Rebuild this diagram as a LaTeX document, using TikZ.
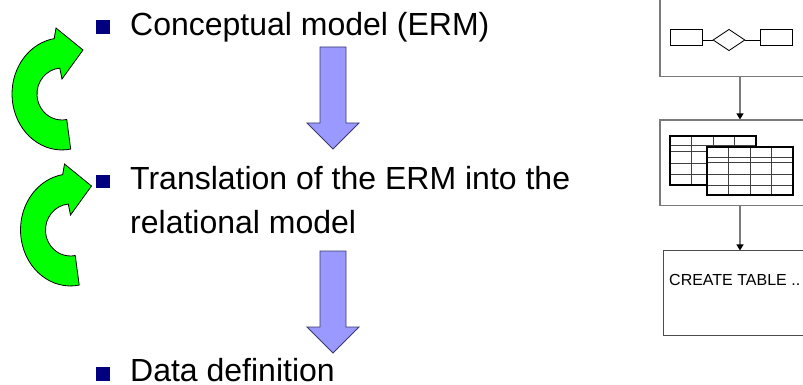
\documentclass[tikz,border=0pt]{standalone}
\usepackage{fontspec}
\setmainfont{Liberation Sans}
\usetikzlibrary{arrows.meta,shapes.geometric}

\definecolor{bulletblue}{HTML}{000080}
\definecolor{arrowblue}{HTML}{9999FF}
\definecolor{arrowedge}{HTML}{3A3A6A}
\definecolor{turngreen}{HTML}{00FF00}
\definecolor{framegray}{HTML}{7A7A7A}

\tikzset{
  bigtext/.style={anchor=base west, inner sep=0pt, font=\fontsize{32}{38}\selectfont},
  bulletsq/.style={fill=bulletblue, draw=none},
  downarrow/.style={fill=arrowblue, draw=arrowedge, line width=0.8pt, line join=miter},
  turnstyle/.style={fill=turngreen, draw=black, line width=0.8pt, line join=miter},
  framebox/.style={draw=framegray, line width=1.3pt, inner sep=0pt},
  conn/.style={draw=framegray, line width=1.3pt,
    -{Triangle[width=7pt,length=6pt,color=black]}},
  erbox/.style={draw=black, line width=0.8pt, fill=white, inner sep=0pt,
    minimum width=32pt, minimum height=15.7pt},
  erdiamond/.style={draw=black, line width=0.8pt, fill=white, inner sep=0pt,
    diamond, minimum width=32pt, minimum height=21.4pt},
  tableframe/.style={draw=black, line width=2pt, fill=white},
  tablegrid/.style={draw=black!75, line width=1pt},
  greenturn/.pic={
    \path[turnstyle] (8.7,55.1)
      arc[start angle=80, end angle=261, x radius=50, y radius=56]
      -- (-6,-66) -- (21,-44) -- (0,-15) -- (-2.2,-25.9)
      arc[start angle=265, end angle=79, x radius=25, y radius=26] -- cycle;
  }
}

\begin{document}
\begin{tikzpicture}[x=1pt, y=-1pt]
  \path[use as bounding box, clip] (0,0) rectangle (803,385);

  % curved green arrows beside the first two items
  \pic at (62,94) {greenturn};
  \pic at (70.5,230) {greenturn};

  % bullet list
  \fill[bulletsq] (96,20.5) rectangle (109.5,34.5);
  \node[bigtext] (t1) at (130,36) {Conceptual model (ERM)};
  \fill[bulletsq] (96,174.5) rectangle (109.5,188);
  \node[bigtext] (t2) at (130,189) {Translation of the ERM into the};
  \node[bigtext] (t2b) at (130,233) {relational model};
  \fill[bulletsq] (96,366.5) rectangle (109.5,380.5);
  \node[bigtext] (t3) at (130,381.5) {Data definition};

  % block arrows between the steps
  \path[downarrow] (320,47) -- (346,47) -- (346,123) -- (359,123) -- (333,149)
    -- (307,123) -- (320,123) -- cycle;
  \path[downarrow] (320,251) -- (346,251) -- (346,327) -- (359,327) -- (333,353)
    -- (307,327) -- (320,327) -- cycle;

  % right column: three frames
  \node[framebox, minimum width=160pt, minimum height=85pt] (box1) at (740,34) {};
  \node[framebox, minimum width=160pt, minimum height=85.3pt] (box2) at (740,162.7) {};
  \node[framebox, draw=black!70, line width=1pt, minimum width=154pt, minimum height=84.7pt]
    (box3) at (740,293.3) {};

  \draw[conn] (box1.south) -- (box2.north);
  \draw[conn] (box2.south) -- (box3.north);

  % ER sketch
  \node[erbox] (ent1) at (686,37.2) {};
  \node[erdiamond] (rel) at (729,40) {};
  \node[erbox] (ent2) at (776,37.2) {};
  \draw[line width=0.8pt] (ent1.east |- rel.west) -- (rel.west);
  \draw[line width=0.8pt] (rel.east) -- (ent2.west |- rel.east);

  % two overlapping tables
  \path[tableframe] (670,136) rectangle (755.7,184.5);
  \foreach \gx in {691.7,713.3,734} \draw[tablegrid] (\gx,136) -- (\gx,184.5);
  \foreach \gy in {146,151.7,163,174} \draw[tablegrid] (670,\gy) -- (755.7,\gy);
  \draw[line width=2pt] (670,136) rectangle (755.7,184.5);

  \path[tableframe] (707,147) rectangle (793,195);
  \foreach \gx in {728.5,750,771.5} \draw[tablegrid] (\gx,147) -- (\gx,195);
  \foreach \gy in {157,162.7,174,185} \draw[tablegrid] (707,\gy) -- (793,\gy);
  \draw[line width=2pt] (707,147) rectangle (793,195);

  % SQL frame text
  \node[anchor=base west, inner sep=0pt, font=\fontsize{16}{19}\selectfont]
    (sql) at (669,285) {CREATE TABLE ..};
\end{tikzpicture}
\end{document}
